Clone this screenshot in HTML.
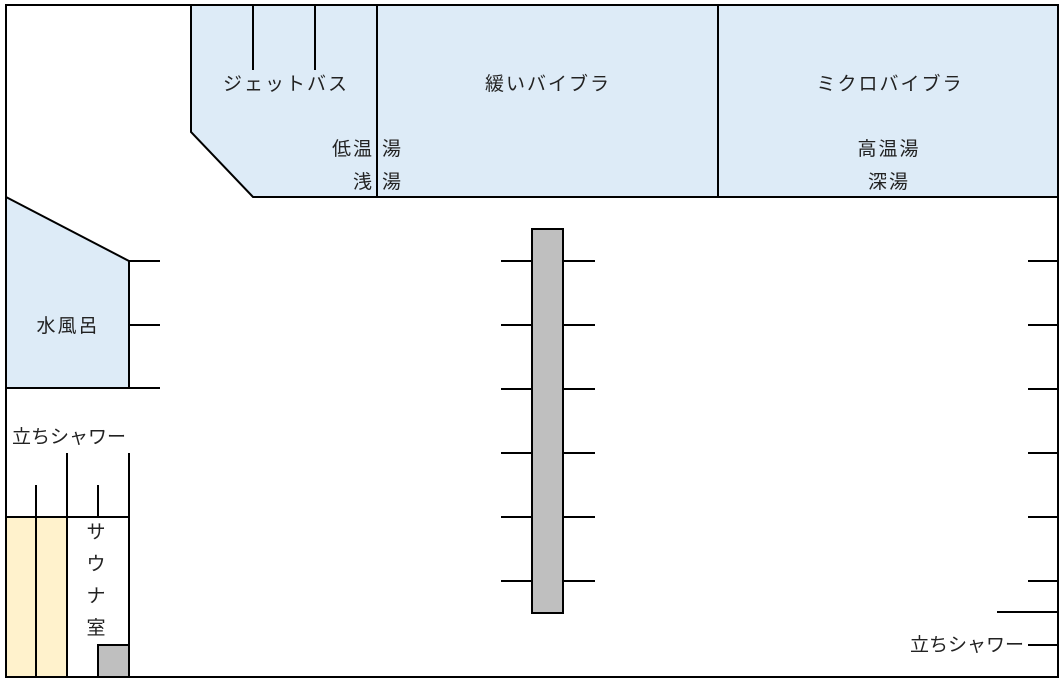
<!DOCTYPE html>
<html><head><meta charset="utf-8"><style>
html,body{margin:0;padding:0;background:#fff;}
svg{display:block;}
text{font-family:"Liberation Sans","Noto Sans CJK JP",sans-serif;font-size:19px;fill:#222;letter-spacing:2px;}
text.t{letter-spacing:0;}
</style></head><body>
<svg width="1064" height="681" viewBox="0 0 1064 681" xmlns="http://www.w3.org/2000/svg">
<g stroke="#000" stroke-width="2" fill="none">
<polygon points="191,5 1058,5 1058,197 253,197 191,132" fill="#ddebf7"/>
<line x1="377" y1="5" x2="377" y2="197"/>
<line x1="718" y1="5" x2="718" y2="197"/>
<line x1="253" y1="5" x2="253" y2="70"/>
<line x1="315" y1="5" x2="315" y2="70"/>
<polygon points="6,197 129,261 129,388 6,388" fill="#ddebf7"/>
<line x1="6" y1="388" x2="160" y2="388"/>
<line x1="129" y1="261" x2="160" y2="261"/>
<line x1="129" y1="325" x2="160" y2="325"/>
<rect x="6" y="517" width="61" height="160" fill="#fff2cc"/>
<rect x="98" y="645" width="31" height="32" fill="#bfbfbf"/>
<line x1="67" y1="453" x2="67" y2="677"/>
<line x1="129" y1="453" x2="129" y2="677"/>
<line x1="36" y1="485" x2="36" y2="677"/>
<line x1="98" y1="485" x2="98" y2="517"/>
<line x1="6" y1="517" x2="129" y2="517"/>
<rect x="532" y="229" width="31" height="384" fill="#bfbfbf"/>
<g>
<line x1="501" y1="261" x2="532" y2="261"/><line x1="563" y1="261" x2="595" y2="261"/><line x1="1028" y1="261" x2="1058" y2="261"/>
<line x1="501" y1="325" x2="532" y2="325"/><line x1="563" y1="325" x2="595" y2="325"/><line x1="1028" y1="325" x2="1058" y2="325"/>
<line x1="501" y1="389" x2="532" y2="389"/><line x1="563" y1="389" x2="595" y2="389"/><line x1="1028" y1="389" x2="1058" y2="389"/>
<line x1="501" y1="453" x2="532" y2="453"/><line x1="563" y1="453" x2="595" y2="453"/><line x1="1028" y1="453" x2="1058" y2="453"/>
<line x1="501" y1="517" x2="532" y2="517"/><line x1="563" y1="517" x2="595" y2="517"/><line x1="1028" y1="517" x2="1058" y2="517"/>
<line x1="501" y1="581" x2="532" y2="581"/><line x1="563" y1="581" x2="595" y2="581"/><line x1="1028" y1="581" x2="1058" y2="581"/>
</g>
<line x1="997" y1="612" x2="1058" y2="612"/>
<line x1="1028" y1="645" x2="1058" y2="645"/>
<rect x="6" y="5" width="1052" height="672"/>
</g>
<text x="286" y="90" text-anchor="middle">ジェットバス</text>
<text x="548" y="90" text-anchor="middle">緩いバイブラ</text>
<text x="890" y="90" text-anchor="middle">ミクロバイブラ</text>
<text x="374" y="155" text-anchor="end">低温</text>
<text x="374" y="188" text-anchor="end">浅</text>
<text x="382" y="155">湯</text>
<text x="382" y="188">湯</text>
<text x="889" y="155" text-anchor="middle">高温湯</text>
<text x="889" y="188" text-anchor="middle">深湯</text>
<text x="68" y="332" text-anchor="middle">水風呂</text>
<text class="t" x="12" y="443">立ちシャワー</text>
<text class="t" x="910" y="651">立ちシャワー</text>
<text x="97" y="538" text-anchor="middle">サ</text>
<text x="97" y="570" text-anchor="middle">ウ</text>
<text x="97" y="602" text-anchor="middle">ナ</text>
<text x="97" y="634" text-anchor="middle">室</text>
</svg>
</body></html>
